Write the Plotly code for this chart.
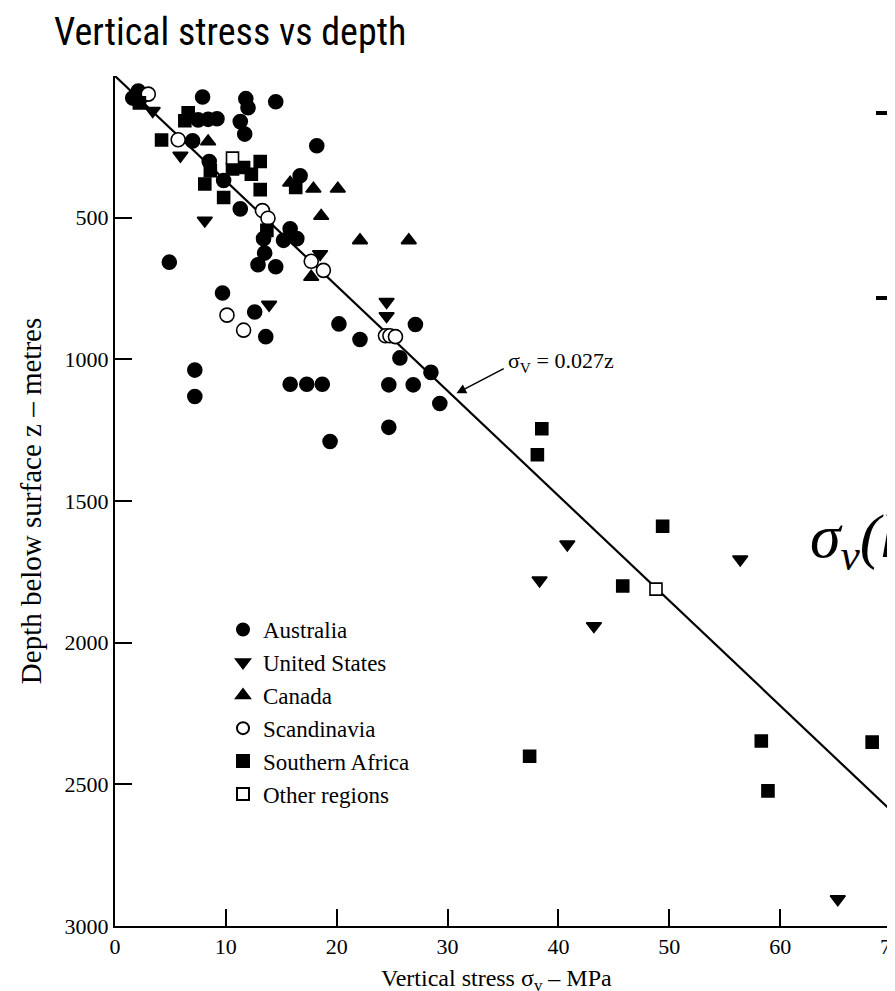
import plotly.graph_objects as go

# ---- data (stress MPa, depth m) ----
aus_v = [1.6, 2.1, 2.5, 7.9, 11.8, 12.0, 14.5, 11.3, 11.7, 7.5, 8.4, 9.2, 7.0, 18.2, 8.5, 9.8,
         11.3, 4.9, 13.4, 13.5, 12.9, 14.5, 15.2, 15.8, 16.4, 16.7, 9.7, 12.6, 13.6, 20.2, 22.1,
         25.7, 27.1, 28.5, 15.8, 17.3, 18.7, 24.7, 26.9, 29.3, 24.7, 19.4, 7.2, 7.2]
aus_z = [78, 53, 70, 74, 80, 112, 91, 161, 205, 155, 153, 151, 229, 246, 302, 369,
         469, 657, 574, 625, 666, 673, 580, 539, 574, 352, 766, 833, 920, 875, 930,
         995, 877, 1046, 1088, 1088, 1088, 1090, 1090, 1156, 1240, 1290, 1038, 1131]

us_v = [3.4, 5.9, 8.1, 18.5, 13.9, 24.5, 24.5, 40.8, 38.3, 43.2, 56.4, 65.2]
us_z = [123, 281, 510, 628, 807, 797, 847, 1653, 1780, 1941, 1706, 2905]

can_v = [8.4, 15.8, 17.9, 20.1, 18.6, 22.1, 17.7, 26.5]
can_z = [231, 377, 398, 398, 494, 580, 709, 580]

sca_v = [3.0, 5.7, 13.3, 13.8, 17.7, 18.8, 10.1, 11.6, 24.4, 24.8, 25.3]
sca_z = [64, 225, 475, 502, 654, 686, 844, 897, 917, 917, 920]

saf_v = [2.2, 4.2, 6.6, 6.3, 10.6, 11.6, 12.3, 13.1, 13.1, 9.8, 8.6, 8.1, 13.7, 16.3,
         38.5, 38.1, 49.4, 45.8, 37.4, 58.3, 58.9, 68.3]
saf_z = [95, 226, 130, 158, 328, 323, 347, 302, 401, 429, 334, 381, 545, 393,
         1245, 1337, 1589, 1800, 2401, 2347, 2523, 2351]

oth_v = [10.6, 48.8]
oth_z = [290, 1811]

line_coef = 0.027
line_z = [0, 2600]
line_v = [line_coef * z for z in line_z]

x_ticks = [0, 10, 20, 30, 40, 50, 60, 70]
y_ticks = [500, 1000, 1500, 2000, 2500, 3000]

SERIF = "Liberation Serif, Times New Roman, serif"
NARROW = "Roboto Condensed, Liberation Sans Narrow, Arial Narrow, Liberation Sans, Arial, sans-serif"

W, H = 895, 991
ML, MR, MT, MB = 107, 12, 68, 73
PW, PH = W - ML - MR, H - MT - MB


def px_to_paper_x(px):
    return (px - ML) / PW


def px_to_paper_y(py):
    return (H - MB - py) / PH


fig = go.Figure()

fig.add_trace(go.Scatter(x=line_v, y=line_z, mode="lines",
                         line=dict(color="black", width=2.2),
                         showlegend=False, hoverinfo="skip"))


def add_series(name, xs, ys, symbol, size, fill, group):
    fig.add_trace(go.Scatter(
        x=xs, y=ys, mode="markers", name=name, legendgroup=group,
        marker=dict(symbol=symbol, size=size, color=fill,
                    line=dict(color="black", width=1.6))))


add_series("Australia", aus_v, aus_z, "circle", 14, "black", "g1")
add_series("United States", us_v, us_z, "triangle-down", 13, "black", "g2")
add_series("Canada", can_v, can_z, "triangle-up", 13, "black", "g3")
add_series("Scandinavia", sca_v, sca_z, "circle", 14, "white", "g4")
add_series("Southern Africa", saf_v, saf_z, "square", 12, "black", "g5")
add_series("Other regions", oth_v, oth_z, "square", 12, "white", "g6")

fig.update_layout(
    width=W, height=H,
    margin=dict(l=ML, r=MR, t=MT, b=MB),
    paper_bgcolor="white", plot_bgcolor="white",
    font=dict(family=SERIF, color="black"),
    title=dict(text="Vertical stress vs depth", x=46 / W, xanchor="left",
               y=1 - 10 / H, yanchor="top", xref="container", yref="container",
               font=dict(family=NARROW, size=38, color="black")),
    legend=dict(x=px_to_paper_x(215), y=px_to_paper_y(600), xanchor="left", yanchor="top",
                font=dict(family=SERIF, size=23, color="black"),
                tracegroupgap=0, bgcolor="rgba(0,0,0,0)", itemsizing="constant"),
    xaxis=dict(range=[0, 70], tickvals=x_ticks, ticktext=[str(t) for t in x_ticks],
               automargin=False,
               showline=True, linecolor="black", linewidth=2, ticks="inside",
               ticklen=17, tickwidth=1.5, tickcolor="black", showgrid=False, zeroline=False,
               tickfont=dict(family=SERIF, size=22)),
    yaxis=dict(range=[3000, 0], tickvals=y_ticks, ticktext=[str(t) for t in y_ticks],
               automargin=False,
               showline=True, linecolor="black", linewidth=2, ticks="inside",
               ticklen=17, tickwidth=1.5, tickcolor="black", showgrid=False, zeroline=False,
               tickfont=dict(family=SERIF, size=22),
               title=dict(text="Depth below surface z – metres",
                          font=dict(family=SERIF, size=29), standoff=14)),
)

# x-axis title placed as an annotation so it sits fully inside the page
fig.add_annotation(x=px_to_paper_x(488), y=px_to_paper_y(989), xref="paper", yref="paper",
                   xanchor="center", yanchor="bottom", showarrow=False,
                   text="Vertical stress σ<sub>v</sub> – MPa",
                   font=dict(family=SERIF, size=24, color="black"))

# line label and arrow
fig.add_annotation(x=35.3, y=1010, xref="x", yref="y", xanchor="left", yanchor="middle",
                   text="σ<sub>V</sub> = 0.027z", showarrow=False,
                   font=dict(family=SERIF, size=22, color="black"))
fig.add_annotation(x=30.8, y=1120, ax=35.2, ay=1030, xref="x", yref="y",
                   axref="x", ayref="y", text="", showarrow=True,
                   arrowhead=2, arrowsize=1.3, arrowwidth=1.5, arrowcolor="black")

# slide remnants on the right edge
fig.add_annotation(x=px_to_paper_x(800), y=px_to_paper_y(532), xref="paper", yref="paper",
                   xanchor="left", yanchor="middle", showarrow=False,
                   text="<i>σ<sub>v</sub>(h</i>",
                   font=dict(family=SERIF, size=62, color="black"))
for y_top, y_bot in [(103, 107), (288, 292)]:
    fig.add_shape(type="rect", xref="paper", yref="paper",
                  x0=px_to_paper_x(868), x1=px_to_paper_x(900),
                  y0=px_to_paper_y(y_bot), y1=px_to_paper_y(y_top),
                  fillcolor="black", line=dict(width=0))

fig.write_html("out.html")
